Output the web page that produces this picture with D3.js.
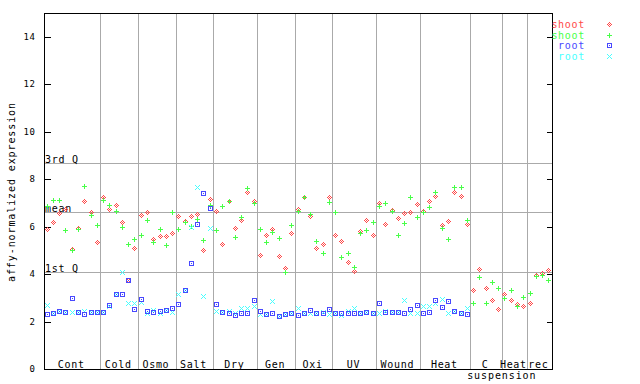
<!DOCTYPE html>
<html><head><meta charset="utf-8">
<script src="https://cdn.jsdelivr.net/npm/d3@7"></script>
<style>
body{margin:0;background:#fff}
svg{display:block}
text{font-family:"DejaVu Sans Mono",monospace}
</style>
</head><body>
<script>
// ---------------- data ----------------
const groups = ["Cont","Cold","Osmo","Salt","Dry","Gen","Oxi","UV","Wound","Heat","C","Heat","rec"];
const groupSizes = [9,6,6,6,7,6,6,7,7,8,5,4,4];
const groupNote = "suspension";
const yTickValues = [0,2,4,6,8,10,12,14];
const refLabels = ["3rd Q","mean","1st Q"];
const refValues = [8.67,6.60,4.07];
const seriesNames = ["shoot","shoot","root","root"];

const shootRed = [5.86,6.19,6.57,6.71,5.05,5.93,7.07,6.61,5.34,
 7.24,6.72,6.90,6.16,3.75,5.09,
 6.48,6.58,5.44,5.60,5.60,5.72,
 6.44,6.21,6.44,6.50,4.98,7.16,
 6.65,5.26,7.07,5.93,6.27,7.45,7.07,
 4.79,5.64,5.89,4.75,4.22,5.72,
 6.74,7.24,6.44,5.09,5.26,7.24,
 5.64,5.39,4.50,4.12,5.79,6.24,5.64,
 6.96,6.10,6.66,6.35,6.54,6.58,6.92,
 6.62,7.04,7.28,6.06,6.23,7.45,7.28,6.10,
 3.32,4.20,3.40,2.90,2.52,
 3.15,2.90,2.73,2.64,
 2.77,3.95,4.04,4.16];
const shootGreen = [6.85,7.09,7.11,5.82,4.98,5.86,7.70,6.47,6.05,
 7.10,6.90,6.62,5.98,5.26,5.44,
 5.64,6.27,5.34,5.86,5.22,6.58,
 5.86,6.16,6.00,6.31,5.40,6.87,
 5.83,6.86,7.04,5.55,6.40,7.62,6.99,
 5.89,5.34,5.76,5.50,4.08,6.06,
 6.64,7.23,6.51,5.36,4.88,7.03,
 6.61,4.71,4.88,4.29,5.72,5.85,6.19,
 6.86,6.96,6.64,5.64,6.14,7.24,6.40,
 6.58,6.82,7.45,5.93,5.47,7.66,7.66,6.27,
 2.77,3.87,2.77,3.66,3.40,
 2.98,3.32,2.64,3.02,
 3.19,3.91,3.95,3.74];
const rootBlue = [2.31,2.35,2.42,2.39,2.98,2.39,2.31,2.37,2.39,
 2.39,2.67,3.12,3.12,3.75,2.49,
 2.94,2.43,2.39,2.43,2.47,2.57,
 2.70,3.30,4.46,6.10,7.38,6.78,
 2.70,2.39,2.35,2.25,2.32,2.35,2.90,
 2.43,2.31,2.35,2.21,2.31,2.35,
 2.25,2.32,2.46,2.32,2.35,2.52,
 2.35,2.35,2.32,2.35,2.35,2.39,2.35,
 2.74,2.38,2.37,2.37,2.35,2.52,2.66,
 2.32,2.39,2.90,2.60,2.85,2.43,2.35,2.29,
 null,null,null,null,null,
 null,null,null,null,
 null,null,null,null];
const rootCyan = [2.67,2.35,2.42,2.40,2.36,2.40,2.42,2.40,2.40,
 2.40,2.65,3.12,4.08,2.77,2.77,
 2.80,2.35,2.45,2.35,2.45,2.38,
 3.15,3.30,5.98,7.66,3.07,5.93,
 2.43,2.39,2.42,2.35,2.53,2.53,2.64,
 2.31,2.31,2.85,2.21,2.31,2.35,
 2.53,2.35,2.35,2.32,2.38,2.31,
 2.35,2.25,2.42,2.53,2.35,2.39,2.35,
 2.35,2.43,2.40,2.37,2.90,2.35,2.35,
 2.64,2.64,2.74,2.94,2.35,2.43,2.35,2.56,
 null,null,null,null,null,
 null,null,null,null,
 null,null,null,null];

// ---------------- layout / style ----------------
const W = 640, H = 384;
const L = 44, R = 552, T = 13, B = 369;
const colors = ["#ff4848","#48ff48","#4848ff","#48ffff"];
const gridColor = "#aaaaaa";

const rng = d3.range(-2,3);
const pairs = rng.flatMap(dx => rng.map(dy => [dx,dy]));
const shapes = {
  diamond: pairs.filter(([a,b]) => Math.abs(a)+Math.abs(b) <= 2 && (a+b)%2 === 0),
  plus: pairs.filter(([a,b]) => a === 0 || b === 0),
  square: pairs.filter(([a,b]) => Math.max(Math.abs(a),Math.abs(b)) === 2 || (a===0 && b===0)),
  cross: pairs.filter(([a,b]) => Math.abs(a) === Math.abs(b))
};
const seriesShapes = ["diamond","plus","square","cross"];
const seriesData = [shootRed, shootGreen, rootBlue, rootCyan];
const drawOrder = [0,1,3,2];

const nSamples = d3.sum(groupSizes);
const x = d3.scaleLinear().domain([0, nSamples]).range([L, R]);
const y = d3.scaleLinear().domain([0, 15]).range([B, T]);

const svg = d3.select("body").append("svg").attr("width", W).attr("height", H)
  .attr("shape-rendering","crispEdges");

// group boundaries
const bounds = d3.cumsum(groupSizes);
const starts = [0, ...Array.from(bounds).slice(0,-1)];
svg.append("g").selectAll("line").data(Array.from(bounds).slice(0,-1)).join("line")
  .attr("x1", d => Math.round(x(d))+0.5).attr("x2", d => Math.round(x(d))+0.5)
  .attr("y1", T).attr("y2", B).attr("stroke", gridColor);

// reference lines
svg.append("g").selectAll("line").data(refValues).join("line")
  .attr("x1", L).attr("x2", R).attr("y1", d => Math.round(y(d))+0.5).attr("y2", d => Math.round(y(d))+0.5)
  .attr("stroke", gridColor);
svg.append("g").selectAll("text").data(refLabels).join("text")
  .attr("x", L+1).attr("y", (d,i) => Math.round(y(refValues[i])))
  .attr("font-size", 10).attr("letter-spacing", 0.7).attr("fill","#000").text(d => d);

// group labels
svg.append("g").selectAll("text").data(groups).join("text")
  .attr("x", (d,i) => (x(starts[i]) + x(bounds[i]))/2 - 1)
  .attr("y", 367.5).attr("text-anchor","middle")
  .attr("font-size", 10).attr("letter-spacing", 0.7).attr("fill","#000").text(d => d);
svg.append("text").attr("x", x(bounds[10])).attr("y", 378.5).attr("text-anchor","middle")
  .attr("font-size", 10).attr("letter-spacing", 0.9).attr("fill","#000").text(groupNote);

// axes
const yAxisL = d3.axisLeft(y).tickValues(yTickValues).tickSizeInner(-6).tickSizeOuter(0).tickPadding(9)
  .tickFormat(d3.format("d"));
const gl = svg.append("g").attr("transform", `translate(${L+0.5},0)`).call(yAxisL);
gl.select(".domain").remove();
gl.selectAll(".tick line").attr("stroke","#000");
gl.selectAll(".tick text").attr("font-size", 9).attr("letter-spacing", 0.6)
  .attr("font-family","DejaVu Sans Mono, monospace").attr("fill","#000");
gl.selectAll(".tick").attr("transform", d => `translate(0,${Math.round(y(d))+0.5})`);

const yAxisR = d3.axisRight(y).tickValues(yTickValues.filter(v => v > 0)).tickSizeInner(-6).tickSizeOuter(0).tickFormat("");
const gr = svg.append("g").attr("transform", `translate(${R+0.5},0)`).call(yAxisR);
gr.select(".domain").remove();
gr.selectAll(".tick line").attr("stroke","#000");
gr.selectAll(".tick").attr("transform", d => `translate(0,${Math.round(y(d))+0.5})`);

// frame
svg.append("rect").attr("x", L+0.5).attr("y", T+0.5).attr("width", R-L).attr("height", B-T)
  .attr("fill","none").attr("stroke","#000");

// y title
svg.append("text").attr("transform","translate(15,192) rotate(-90)").attr("text-anchor","middle")
  .attr("font-size", 10).attr("letter-spacing", 0.9).attr("fill","#000")
  .text("affy-normalized expression");

// markers
function drawMarker(g, cx, cy, shape, color) {
  g.selectAll(null).data(shapes[shape]).join("rect")
    .attr("x", d => cx + d[0]).attr("y", d => cy + d[1])
    .attr("width", 1).attr("height", 1).attr("fill", color);
}
drawOrder.forEach(s => {
  const g = svg.append("g");
  seriesData[s].forEach((v, i) => {
    if (v == null) return;
    const cx = Math.round(x(i + 0.5) - 0.5), cy = Math.round(y(v) - 0.5);
    drawMarker(g.append("g"), cx, cy, seriesShapes[s], colors[s]);
  });
});

// legend
const lg = svg.append("g");
seriesNames.forEach((name, k) => {
  const cy = Math.round(23.7 + k*10.8);
  lg.append("text").attr("x", 585).attr("y", cy + 4).attr("text-anchor","end")
    .attr("font-size", 10).attr("letter-spacing", 0.7).attr("fill", colors[k]).text(name);
  drawMarker(lg.append("g"), 609, cy, seriesShapes[k], colors[k]);
});
</script>
</body></html>
